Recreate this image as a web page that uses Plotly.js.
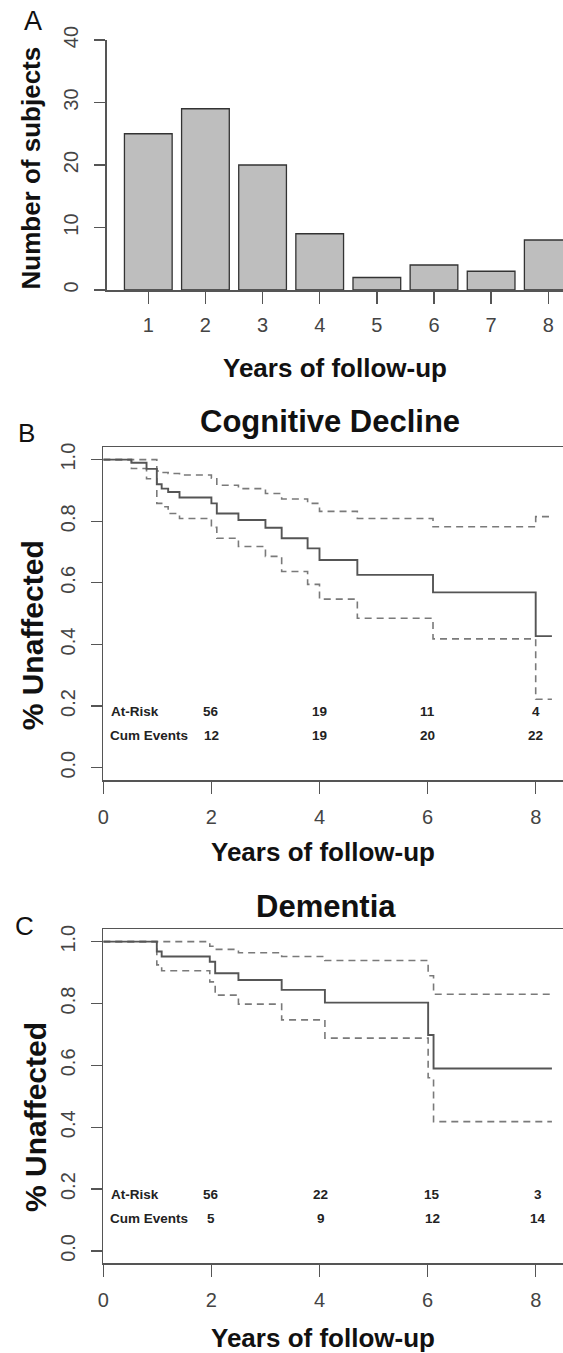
<!DOCTYPE html>
<html>
<head>
<meta charset="utf-8">
<script src="https://cdn.plot.ly/plotly-3.0.1.min.js"></script>
<style>html,body{margin:0;padding:0;background:#fff;}#chart{width:563px;height:1353px;}</style>
</head>
<body>
<div id="chart"></div>
<script>
// ---------- Data ----------
// Panel A: distribution of follow-up
const barYears = [1, 2, 3, 4, 5, 6, 7, 8];
const barCounts = [25, 29, 20, 9, 2, 4, 3, 8];

// Panel B: Cognitive Decline (Kaplan-Meier estimate with 95% CI)
const cogTimes = [0, 0.52, 0.80, 0.99, 1.08, 1.20, 1.41, 2.00, 2.10, 2.50, 3.00, 3.30, 3.78, 4.00, 4.70, 6.10, 8.00, 8.30];
const cogSurv  = [1, 0.990, 0.970, 0.920, 0.906, 0.895, 0.877, 0.858, 0.825, 0.804, 0.779, 0.745, 0.712, 0.674, 0.626, 0.569, 0.427, 0.427];
const cogUpper = [1, 1, 1, 0.963, 0.958, 0.955, 0.950, 0.940, 0.917, 0.906, 0.890, 0.872, 0.858, 0.832, 0.809, 0.782, 0.815, 0.815];
const cogLower = [1, 0.971, 0.938, 0.858, 0.847, 0.825, 0.809, 0.780, 0.745, 0.718, 0.686, 0.637, 0.595, 0.547, 0.485, 0.418, 0.222, 0.222];
const cogRiskTimes = [2, 4, 6, 8];
const cogAtRisk = [56, 19, 11, 4];
const cogCumEvents = [12, 19, 20, 22];

// Panel C: Dementia
const demTimes = [0, 0.99, 1.08, 1.97, 2.07, 2.50, 3.30, 4.10, 6.01, 6.11, 8.30];
const demSurv  = [1, 0.968, 0.952, 0.935, 0.898, 0.876, 0.844, 0.803, 0.698, 0.590, 0.590];
const demUpper = [1, 1, 1, 0.985, 0.975, 0.964, 0.952, 0.939, 0.890, 0.830, 0.830];
const demLower = [1, 0.925, 0.906, 0.870, 0.827, 0.798, 0.747, 0.688, 0.560, 0.418, 0.418];
const demRiskTimes = [2, 4.02, 6.09, 8.05];
const demAtRisk = [56, 22, 15, 3];
const demCumEvents = [5, 9, 12, 14];

const kmTicks = [0, 2, 4, 6, 8];
const survTicks = [0, 0.2, 0.4, 0.6, 0.8, 1.0];
const countTicks = [0, 10, 20, 30, 40];

const titleB = 'Cognitive Decline';
const titleC = 'Dementia';
const xTitle = 'Years of follow-up';
const yTitleA = 'Number of subjects';
const yTitleKM = '% Unaffected';

// ---------- Layout helpers ----------
const W = 563, H = 1353;
const px = v => v / W;
const py = v => 1 - v / H;
const FONT = 'Liberation Sans, Arial, Helvetica, sans-serif';
const tickFont = {family: FONT, size: 20, color: '#444'};
const lineCol = '#555';

function stepTrace(x, y, xa, ya, dashed) {
  return {
    type: 'scatter', mode: 'lines', x: x, y: y, xaxis: xa, yaxis: ya,
    line: {shape: 'hv', color: dashed ? '#7a7a7a' : '#555', width: dashed ? 1.6 : 1.9, dash: dashed ? '7px,5px' : 'solid'},
    hoverinfo: 'skip'
  };
}

const traces = [
  {type: 'bar', x: barYears, y: barCounts, xaxis: 'x', yaxis: 'y',
   marker: {color: '#bebebe', line: {color: '#333', width: 1.3}}, hoverinfo: 'skip'},
  stepTrace(cogTimes, cogUpper, 'x2', 'y2', true),
  stepTrace(cogTimes, cogLower, 'x2', 'y2', true),
  stepTrace(cogTimes, cogSurv, 'x2', 'y2', false),
  stepTrace(demTimes, demUpper, 'x3', 'y3', true),
  stepTrace(demTimes, demLower, 'x3', 'y3', true),
  stepTrace(demTimes, demSurv, 'x3', 'y3', false)
];

function xAxis(domain, range, ticks, anchor, mirror, standoff) {
  return {domain: domain, range: range, tickvals: ticks, ticktext: ticks.map(String),
    ticks: 'outside', ticklen: 12, tickwidth: 1.3, tickcolor: lineCol,
    showline: true, linecolor: lineCol, linewidth: 1.6, mirror: mirror,
    showgrid: false, zeroline: false, tickfont: tickFont, ticklabelstandoff: standoff,
    anchor: anchor, fixedrange: true};
}
function yAxis(domain, range, ticks, anchor, fmt) {
  return {domain: domain, range: range, tickvals: ticks,
    ticktext: ticks.map(v => fmt ? v.toFixed(1) : String(v)),
    ticks: 'outside', ticklen: 11, tickwidth: 1.3, tickcolor: lineCol, tickangle: -90,
    showline: true, linecolor: lineCol, linewidth: 1.6,
    showgrid: false, zeroline: false, tickfont: tickFont, ticklabelstandoff: 8,
    anchor: anchor, fixedrange: true};
}

const annotations = [];
function ann(text, x, y, size, opts) {
  annotations.push(Object.assign({text: text, xref: 'paper', yref: 'paper', x: px(x), y: py(y),
    xanchor: 'center', yanchor: 'middle', showarrow: false,
    font: {family: FONT, size: size, color: '#111'}}, opts || {}));
}
// Panel labels
ann('A', 32.5, 21, 27);
ann('B', 26.7, 433, 26);
ann('C', 24, 926, 26);
// Titles
ann('<b>' + titleB + '</b>', 329.5, 421, 31);
ann('<b>' + titleC + '</b>', 326, 906, 31);
// Axis titles
ann('<b>' + xTitle + '</b>', 335, 368, 26);
ann('<b>' + xTitle + '</b>', 323, 852, 26);
ann('<b>' + xTitle + '</b>', 323, 1338, 26);
ann('<b>' + yTitleA + '</b>', 31, 168.5, 26, {textangle: -90});
ann('<b>' + yTitleKM + '</b>', 33.3, 635, 30, {textangle: -90});
ann('<b>' + yTitleKM + '</b>', 35.5, 1117.5, 30, {textangle: -90});

// Risk tables
function riskTable(xa, ya, times, atRisk, cum) {
  const f = {family: FONT, size: 13.5, color: '#222'};
  annotations.push({text: '<b>At-Risk</b>', xref: xa, yref: ya, x: 0.11, y: 0.183, xanchor: 'left', yanchor: 'middle', showarrow: false, font: f});
  annotations.push({text: '<b>Cum Events</b>', xref: xa, yref: ya, x: 0.09, y: 0.104, xanchor: 'left', yanchor: 'middle', showarrow: false, font: f});
  times.forEach((t, i) => {
    annotations.push({text: '<b>' + atRisk[i] + '</b>', xref: xa, yref: ya, x: t, y: 0.183, xanchor: 'center', yanchor: 'middle', showarrow: false, font: f});
    annotations.push({text: '<b>' + cum[i] + '</b>', xref: xa, yref: ya, x: t, y: 0.104, xanchor: 'center', yanchor: 'middle', showarrow: false, font: f});
  });
}
riskTable('x2', 'y2', cogRiskTimes, cogAtRisk, cogCumEvents);
riskTable('x3', 'y3', demRiskTimes, demAtRisk, demCumEvents);

const layout = {
  width: W, height: H,
  margin: {l: 0, r: 0, t: 0, b: 0, pad: 0},
  paper_bgcolor: '#fff', plot_bgcolor: '#fff',
  showlegend: false, bargap: 0.165,
  font: {family: FONT, color: '#222'},
  xaxis: xAxis([px(106.7), 1], [0.272, 8.258], barYears, 'y', false, 4),
  yaxis: yAxis([py(290), py(40)], [0, 40], countTicks, 'x', false),
  xaxis2: xAxis([px(103.3), 1], [0, 8.505], kmTicks, 'y2', true, 6),
  yaxis2: yAxis([py(780), py(447.3)], [-0.04, 1.04], survTicks, 'x2', true),
  xaxis3: xAxis([px(103.3), 1], [0, 8.505], kmTicks, 'y3', true, 6),
  yaxis3: yAxis([py(1263.3), py(929.3)], [-0.04, 1.04], survTicks, 'x3', true),
  annotations: annotations
};

Plotly.newPlot('chart', traces, layout, {staticPlot: true, displayModeBar: false});
</script>
</body>
</html>
